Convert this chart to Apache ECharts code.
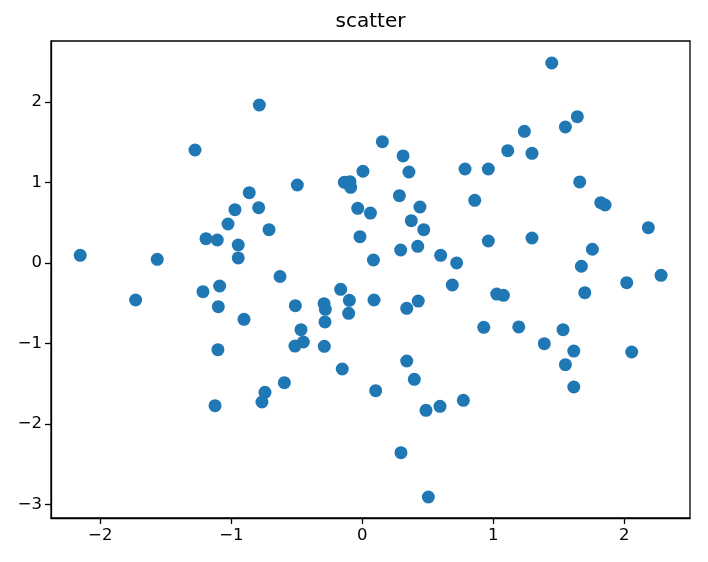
<!DOCTYPE html>
<html>
<head>
<meta charset="utf-8">
<script src="https://cdn.jsdelivr.net/npm/echarts@6/dist/echarts.min.js"></script>
<style>html,body{margin:0;padding:0;background:#fff;}#c{width:708px;height:562px;}</style>
</head>
<body>
<div id="c"></div>
<script>
const chartTitle = 'scatter';
const xTicks = [-2, -1, 0, 1, 2];
const yTicks = [-3, -2, -1, 0, 1, 2];
const xs = [-2.153,-1.565,-1.277,-0.786,-0.496,-0.863,-0.972,-0.791,-1.025,-0.712,-1.193,-1.107,-0.947,-0.947,-0.628,0.005,-0.137,-0.094,-0.089,-0.035,0.062,-0.018,1.446,1.641,1.550,1.237,0.153,1.110,1.295,0.311,0.356,0.784,0.962,1.659,0.283,0.858,1.820,1.853,0.440,0.374,0.469,0.962,1.295,2.183,0.293,0.423,0.085,0.598,0.720,1.756,1.672,2.018,2.280,0.687,0.089,0.427,0.339,1.026,1.077,1.698,0.927,1.194,1.389,1.532,1.614,1.550,2.056,1.614,0.339,0.397,0.102,0.486,0.593,0.771,0.295,0.504,-1.730,-1.216,-1.089,-1.099,-0.903,-0.511,-0.292,-0.282,-0.285,-0.165,-0.099,-0.104,-0.468,-0.450,-0.514,-0.290,-1.102,-0.153,-0.595,-0.743,-0.766,-1.124];
const ys = [0.093,0.043,1.401,1.960,0.966,0.871,0.660,0.685,0.482,0.411,0.300,0.283,0.221,0.060,-0.170,1.137,1.000,1.008,0.938,0.677,0.617,0.324,2.482,1.815,1.687,1.633,1.505,1.393,1.360,1.327,1.128,1.165,1.165,1.004,0.834,0.776,0.747,0.718,0.693,0.523,0.411,0.271,0.308,0.436,0.159,0.205,0.035,0.093,-0.002,0.168,-0.043,-0.247,-0.156,-0.276,-0.462,-0.475,-0.565,-0.388,-0.404,-0.371,-0.802,-0.797,-1.005,-0.831,-1.096,-1.266,-1.108,-1.543,-1.220,-1.447,-1.589,-1.833,-1.783,-1.708,-2.359,-2.909,-0.462,-0.359,-0.288,-0.545,-0.702,-0.533,-0.508,-0.578,-0.735,-0.329,-0.466,-0.628,-0.831,-0.984,-1.034,-1.038,-1.079,-1.319,-1.489,-1.609,-1.729,-1.775];

const points = xs.map((x, i) => [x, ys[i]]);
const FONT = 'DejaVu Sans';
const fmt = v => (v < 0 ? '\u2212' + Math.abs(v) : String(v));

const chart = echarts.init(document.getElementById('c'), null, {renderer: 'canvas'});
chart.setOption({
  animation: false,
  backgroundColor: '#ffffff',
  title: {
    text: chartTitle,
    left: 370.5,
    top: 12,
    textAlign: 'center',
    padding: 0,
    textStyle: {fontFamily: FONT, fontSize: 20, fontWeight: 'normal', color: '#000'}
  },
  grid: {
    left: 51, right: 18, top: 41, bottom: 44,
    show: true, borderColor: '#000', borderWidth: 1.3, backgroundColor: 'transparent'
  },
  xAxis: {
    type: 'value',
    min: -2.376, max: 2.501,
    splitLine: {show: false},
    axisLine: {show: true, onZero: false, lineStyle: {color: '#000', width: 1.3}},
    axisTick: {show: true, inside: false, length: 6, customValues: xTicks, lineStyle: {color: '#000', width: 1.3}},
    axisLabel: {show: true, customValues: xTicks, formatter: fmt, margin: 9,
      fontFamily: FONT, fontSize: 16.5, color: '#000'}
  },
  yAxis: {
    type: 'value',
    min: -3.170, max: 2.755,
    splitLine: {show: false},
    axisLine: {show: true, onZero: false, lineStyle: {color: '#000', width: 1.3}},
    axisTick: {show: true, inside: false, length: 6, customValues: yTicks, lineStyle: {color: '#000', width: 1.3}},
    axisLabel: {show: true, customValues: yTicks, formatter: fmt, margin: 9,
      fontFamily: FONT, fontSize: 16.5, color: '#000'}
  },
  series: [{
    type: 'scatter',
    data: points,
    symbol: 'circle',
    symbolSize: 13,
    itemStyle: {color: '#1f77b4', opacity: 1}
  }]
});
</script>
</body>
</html>
